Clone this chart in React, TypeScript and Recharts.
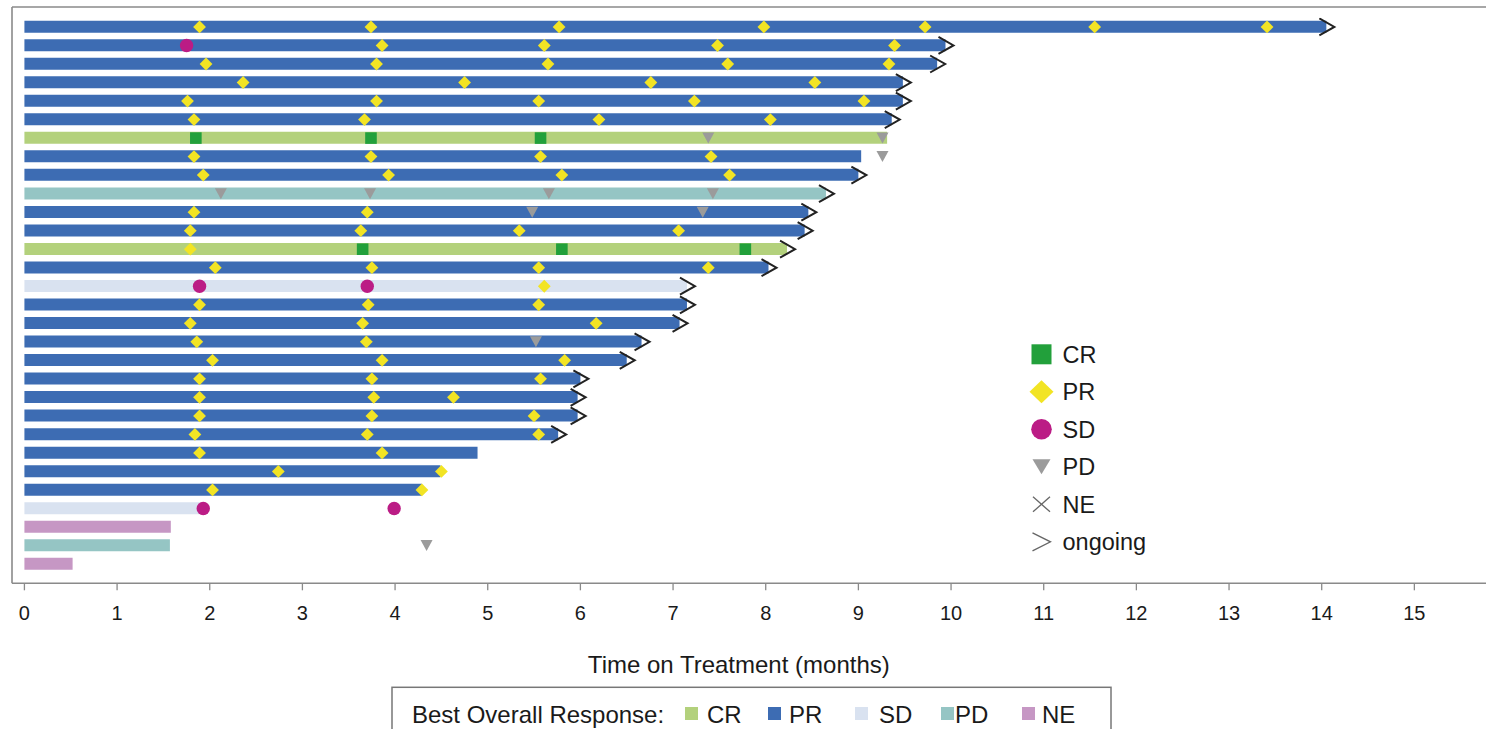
import React from 'react';
import { ComposedChart, Bar, Cell, Scatter, XAxis, YAxis } from 'recharts';

// ---- data ----
const patients = [
  'P01', 'P02', 'P03', 'P04', 'P05', 'P06', 'P07', 'P08', 'P09', 'P10',
  'P11', 'P12', 'P13', 'P14', 'P15', 'P16', 'P17', 'P18', 'P19', 'P20',
  'P21', 'P22', 'P23', 'P24', 'P25', 'P26', 'P27', 'P28', 'P29', 'P30',
];
const durations = [
  14.05, 9.94, 9.85, 9.48, 9.48, 9.36, 9.31, 9.03, 9.0, 8.65,
  8.46, 8.42, 8.23, 8.03, 7.15, 7.15, 7.07, 6.66, 6.5, 6.0,
  5.97, 5.97, 5.76, 4.89, 4.49, 4.29, 1.9, 1.58, 1.57, 0.52,
];
const bestResponse = [
  'PR', 'PR', 'PR', 'PR', 'PR', 'PR', 'CR', 'PR', 'PR', 'PD',
  'PR', 'PR', 'CR', 'PR', 'SD', 'PR', 'PR', 'PR', 'PR', 'PR',
  'PR', 'PR', 'PR', 'PR', 'PR', 'PR', 'SD', 'NE', 'PD', 'NE',
];
const ongoing = [
  true, true, true, true, true, true, false, false, true, true,
  true, true, true, true, true, true, true, true, true, true,
  true, true, true, false, false, false, false, false, false, false,
];
// assessment times (months) per patient row
const crTimes: number[][] = [
  [], [], [], [], [], [], [1.85, 3.74, 5.57], [], [], [],
  [], [], [3.65, 5.8, 7.78], [], [], [], [], [], [], [],
  [], [], [], [], [], [], [], [], [], [],
];
const prTimes: number[][] = [
  [1.89, 3.74, 5.77, 7.98, 9.72, 11.55, 13.41],
  [3.86, 5.61, 7.48, 9.39],
  [1.96, 3.8, 5.65, 7.59, 9.33],
  [2.36, 4.75, 6.76, 8.53],
  [1.76, 3.8, 5.55, 7.23, 9.06],
  [1.83, 3.67, 6.2, 8.05],
  [],
  [1.83, 3.74, 5.57, 7.41],
  [1.93, 3.93, 5.8, 7.61],
  [],
  [1.83, 3.7],
  [1.79, 3.63, 5.34, 7.06],
  [1.79],
  [2.06, 3.75, 5.55, 7.38],
  [5.61],
  [1.89, 3.71, 5.55],
  [1.79, 3.65, 6.17],
  [1.86, 3.69],
  [2.03, 3.86, 5.83],
  [1.89, 3.75, 5.57],
  [1.89, 3.77, 4.63],
  [1.89, 3.75, 5.5],
  [1.84, 3.7, 5.55],
  [1.89, 3.86],
  [2.74, 4.5],
  [2.03, 4.29],
  [], [], [], [],
];
const sdTimes: number[][] = [
  [], [1.75], [], [], [], [], [], [], [], [],
  [], [], [], [], [1.89, 3.7], [], [], [], [], [],
  [], [], [], [], [], [], [1.93, 3.99], [], [], [],
];
const pdTimes: number[][] = [
  [], [], [], [], [], [], [7.38, 9.26], [9.26], [], [2.12, 3.73, 5.66, 7.43],
  [5.48, 7.32], [], [], [], [], [], [], [5.52], [], [],
  [], [], [], [], [], [], [], [], [4.34], [],
];
const xTicks = [0, 1, 2, 3, 4, 5, 6, 7, 8, 9, 10, 11, 12, 13, 14, 15];

// ---- styles ----
const FONT = '"Liberation Sans", Arial, sans-serif';
const barColors: Record<string, string> = {
  CR: '#b3d17c',
  PR: '#3d6cb3',
  SD: '#d9e2f0',
  PD: '#95c5c4',
  NE: '#c697c4',
};
const MARK_CR = '#22a03b';
const MARK_PR = '#f2e424';
const MARK_SD = '#bb1c85';
const MARK_PD = '#9b9b9b';
const FRAME = '#8a8a8a';

const barData = patients.map((p, i) => ({ patient: p, dur: durations[i], resp: bestResponse[i] }));
const toPoints = (arr: number[][]) =>
  arr.flatMap((times, i) => times.map((t) => ({ t, row: i + 1 })));
const crPoints = toPoints(crTimes);
const prPoints = toPoints(prTimes);
const sdPoints = toPoints(sdTimes);
const pdPoints = toPoints(pdTimes);
const ongoingPoints = durations
  .map((d, i) => ({ t: d, row: i + 1, on: ongoing[i] }))
  .filter((d) => d.on);

const SquareShape = (p: any) => (
  <rect x={p.cx - 5.8} y={p.cy - 5.8} width={11.6} height={11.6} fill={MARK_CR} />
);
const DiamondShape = (p: any) => (
  <polygon
    points={`${p.cx},${p.cy - 6.4} ${p.cx + 6.4},${p.cy} ${p.cx},${p.cy + 6.4} ${p.cx - 6.4},${p.cy}`}
    fill={MARK_PR}
  />
);
const CircleShape = (p: any) => <circle cx={p.cx} cy={p.cy} r={6.7} fill={MARK_SD} />;
const TriangleShape = (p: any) => (
  <polygon
    points={`${p.cx - 6},${p.cy - 5.5} ${p.cx + 6},${p.cy - 5.5} ${p.cx},${p.cy + 5.5}`}
    fill={MARK_PD}
  />
);
const ArrowShape = (p: any) => (
  <polyline
    points={`${p.cx - 7},${p.cy - 8.5} ${p.cx + 8},${p.cy} ${p.cx - 7},${p.cy + 8.5}`}
    fill="none"
    stroke="#222"
    strokeWidth={2}
  />
);

const PAD = { top: 10.7, bottom: 10 };

export default function App() {
  const legendRows = ['CR', 'PR', 'SD', 'PD', 'NE', 'ongoing'];
  const lgX = 1041.5;
  const lgY0 = 354.3;
  const lgStep = 37.5;
  const bottomItems = [
    { k: 'CR', sx: 685, tx: 707 },
    { k: 'PR', sx: 768, tx: 789 },
    { k: 'SD', sx: 855, tx: 879 },
    { k: 'PD', sx: 941, tx: 955 },
    { k: 'NE', sx: 1022, tx: 1042 },
  ];
  const icon = (k: string, cy: number) => {
    const cx = lgX;
    switch (k) {
      case 'CR':
        return <rect x={cx - 10} y={cy - 10} width={20} height={20} fill={MARK_CR} />;
      case 'PR':
        return (
          <polygon
            points={`${cx},${cy - 11.5} ${cx + 12},${cy} ${cx},${cy + 11.5} ${cx - 12},${cy}`}
            fill={MARK_PR}
          />
        );
      case 'SD':
        return <circle cx={cx} cy={cy} r={10.3} fill={MARK_SD} />;
      case 'PD':
        return (
          <polygon
            points={`${cx - 9},${cy - 7.5} ${cx + 9},${cy - 7.5} ${cx},${cy + 7.5}`}
            fill={MARK_PD}
          />
        );
      case 'NE':
        return (
          <g stroke="#666" strokeWidth={1.3}>
            <line x1={cx - 8.5} y1={cy - 7.5} x2={cx + 8.5} y2={cy + 7.5} />
            <line x1={cx - 8.5} y1={cy + 7.5} x2={cx + 8.5} y2={cy - 7.5} />
          </g>
        );
      default:
        return (
          <polyline
            points={`${cx - 9},${cy - 9} ${cx + 9},${cy} ${cx - 9},${cy + 9}`}
            fill="none"
            stroke="#666"
            strokeWidth={1.3}
          />
        );
    }
  };

  return (
    <div
      style={{
        position: 'absolute',
        left: 0,
        top: 0,
        width: 1486,
        height: 729,
        overflow: 'hidden',
        background: '#fff',
        fontFamily: FONT,
      }}
    >
      <ComposedChart
        width={1486}
        height={729}
        layout="vertical"
        data={barData}
        margin={{ top: 6, right: 0, bottom: 85.7, left: 11 }}
      >
        <XAxis
          xAxisId="top"
          orientation="top"
          type="number"
          domain={[-0.134, 15.773]}
          allowDataOverflow
          height={1}
          tick={false}
          tickLine={false}
          axisLine={{ stroke: FRAME, strokeWidth: 1.6 }}
        />
        <XAxis
          xAxisId="main"
          dataKey="t"
          type="number"
          domain={[-0.134, 15.773]}
          allowDataOverflow
          ticks={xTicks}
          interval={0}
          height={60}
          tickSize={7}
          tickMargin={15.7}
          tickLine={{ stroke: FRAME, strokeWidth: 1.3 }}
          axisLine={{ stroke: FRAME, strokeWidth: 1.6 }}
          tick={{ fontSize: 20, fill: '#1a1a1a', fontFamily: FONT }}
        />
        <YAxis
          yAxisId="cat"
          type="category"
          dataKey="patient"
          width={1}
          padding={PAD}
          tick={false}
          tickLine={false}
          axisLine={{ stroke: FRAME, strokeWidth: 1.6 }}
        />
        <YAxis
          yAxisId="num"
          type="number"
          dataKey="row"
          domain={[0.5, 30.5]}
          allowDataOverflow
          hide
          padding={PAD}
        />
        <Bar
          xAxisId="main"
          yAxisId="cat"
          dataKey="dur"
          barSize={12}
          isAnimationActive={false}
        >
          {barData.map((d, i) => (
            <Cell key={i} fill={barColors[d.resp]} />
          ))}
        </Bar>
        <Scatter xAxisId="main" yAxisId="num" data={crPoints} shape={SquareShape} isAnimationActive={false} />
        <Scatter xAxisId="main" yAxisId="num" data={prPoints} shape={DiamondShape} isAnimationActive={false} />
        <Scatter xAxisId="main" yAxisId="num" data={sdPoints} shape={CircleShape} isAnimationActive={false} />
        <Scatter xAxisId="main" yAxisId="num" data={pdPoints} shape={TriangleShape} isAnimationActive={false} />
        <Scatter xAxisId="main" yAxisId="num" data={ongoingPoints} shape={ArrowShape} isAnimationActive={false} />
      </ComposedChart>

      <svg
        width={1486}
        height={729}
        style={{ position: 'absolute', left: 0, top: 0, pointerEvents: 'none' }}
        fontFamily={FONT}
      >
        <text x={738.8} y={673} textAnchor="middle" fontSize={24} fill="#1a1a1a">
          Time on Treatment (months)
        </text>
        {legendRows.map((k, i) => {
          const cy = lgY0 + i * lgStep;
          return (
            <g key={k}>
              {icon(k, cy)}
              <text x={1062.5} y={cy + 8.5} fontSize={23.5} fill="#1a1a1a">
                {k}
              </text>
            </g>
          );
        })}
        <rect x={392} y={687.3} width={719} height={70} fill="none" stroke="#777" strokeWidth={1.5} />
        <text x={412} y={723} fontSize={24} fill="#1a1a1a">
          Best Overall Response:
        </text>
        {bottomItems.map((b) => (
          <g key={b.k}>
            <rect x={b.sx} y={707} width={13} height={13} fill={barColors[b.k]} />
            <text x={b.tx} y={723} fontSize={24} fill="#1a1a1a">
              {b.k}
            </text>
          </g>
        ))}
      </svg>
    </div>
  );
}
